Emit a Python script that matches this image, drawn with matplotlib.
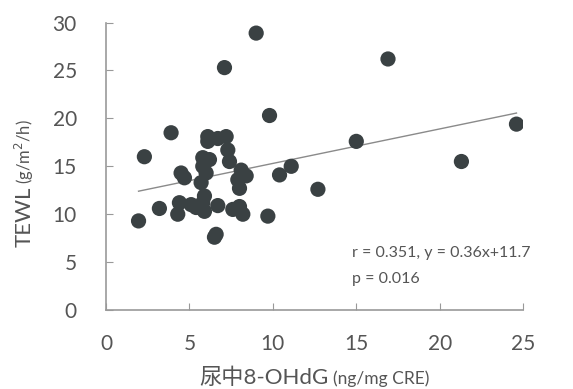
import matplotlib.pyplot as plt
import numpy as np

plt.rcParams['font.family'] = ['Lato', 'Noto Sans CJK JP', 'DejaVu Sans']

# urinary 8-OHdG (ng/mg CRE) vs TEWL (g/m2/h)
ohdg = [9.0, 7.1, 16.9, 9.8, 24.6, 3.9, 6.1, 6.7, 7.2, 6.1,
        15.0, 7.3, 2.3, 5.8, 6.2, 7.4, 21.3, 5.8, 11.1, 8.1,
        6.0, 4.5, 10.4, 8.4, 4.7, 7.9, 5.7, 8.0, 12.7, 5.9,
        5.8, 4.4, 5.1, 6.7, 8.0, 5.4, 3.2, 7.6, 5.9, 4.3,
        8.2, 9.7, 1.95, 6.6, 6.5]
tewl = [28.9, 25.3, 26.2, 20.3, 19.4, 18.5, 18.1, 17.9, 18.1, 17.6,
        17.6, 16.7, 16.0, 15.9, 15.7, 15.5, 15.5, 15.0, 15.0, 14.6,
        14.3, 14.3, 14.1, 14.0, 13.8, 13.6, 13.3, 12.7, 12.6, 11.9,
        11.2, 11.2, 11.0, 10.9, 10.8, 10.7, 10.6, 10.5, 10.3, 10.0,
        10.0, 9.8, 9.3, 7.9, 7.6]

slope, intercept = 0.36, 11.7
x_ticks = [0, 5, 10, 15, 20, 25]
y_ticks = [0, 5, 10, 15, 20, 25, 30]

grey = '#555555'

fig = plt.figure(figsize=(5.73, 3.89), dpi=100)
ax = fig.add_axes([0.185, 0.203, 0.728, 0.739])

ax.scatter(ohdg, tewl, s=120, color='#3a4143', edgecolors='none', zorder=3)

xs = np.array([min(ohdg), max(ohdg)])
ax.plot(xs, slope * xs + intercept, color='#8a8a8a', lw=1.0, zorder=2)

ax.set_xlim(0, 25)
ax.set_ylim(0, 30)
ax.set_xticks(x_ticks)
ax.set_yticks(y_ticks)
ax.tick_params(direction='in', length=5, color='#999999', labelcolor=grey,
               labelsize=15)
ax.tick_params(axis='x', pad=17)
ax.tick_params(axis='y', pad=21)
for side in ['top', 'right']:
    ax.spines[side].set_visible(False)
for side in ['left', 'bottom']:
    ax.spines[side].set_color('#999999')
    ax.spines[side].set_linewidth(1.2)

ax.text(352 / 573, 1 - 257 / 389, 'r = 0.351, y = 0.36x+11.7',
        transform=fig.transFigure, fontsize=11.5, color=grey)
ax.text(352 / 573, 1 - 283 / 389, 'p = 0.016',
        transform=fig.transFigure, fontsize=11.5, color=grey)

# y label: big "TEWL" with smaller units
fig.text(0.054, 1 - 187 / 389, 'TEWL', rotation=90, rotation_mode='anchor',
         fontsize=16, color=grey, ha='right', va='baseline')
fig.text(0.054, 1 - 184 / 389, '(g/m$^2$/h)', rotation=90, rotation_mode='anchor',
         fontsize=12, color=grey, ha='left', va='baseline')

# x label: big "尿中8-OHdG" with smaller units
fig.text(329 / 573, 1 - 384 / 389, '尿中8-OHdG', fontsize=16, color=grey,
         ha='right', va='baseline')
fig.text(333 / 573, 1 - 384 / 389, '(ng/mg CRE)', fontsize=12.5, color=grey,
         ha='left', va='baseline')

fig.savefig('out.png', dpi=100)
